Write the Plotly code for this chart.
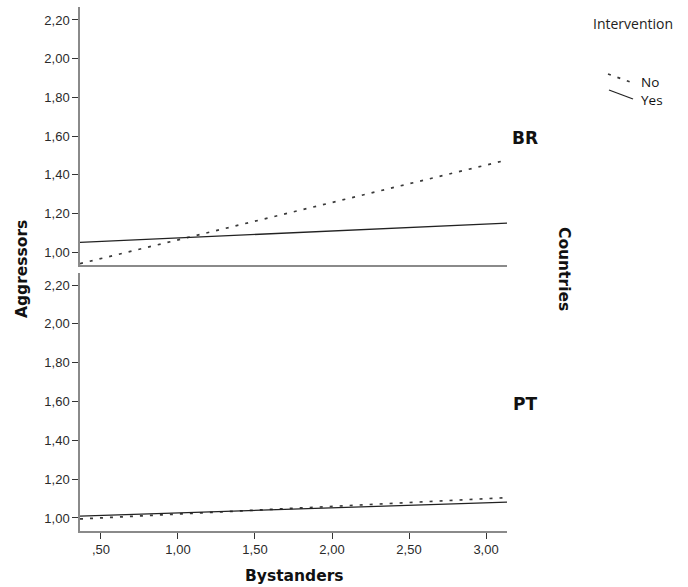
import plotly.graph_objects as go

# ---- data ----
bystanders_range = [0.364, 3.136]
br_no = [0.94, 1.476]
br_yes = [1.05, 1.15]
pt_no = [0.995, 1.105]
pt_yes = [1.01, 1.082]
x_tickvals = [0.5, 1.0, 1.5, 2.0, 2.5, 3.0]
x_ticktext = [",50", "1,00", "1,50", "2,00", "2,50", "3,00"]
y_tickvals = [1.0, 1.2, 1.4, 1.6, 1.8, 2.0, 2.2]
y_ticktext = ["1,00", "1,20", "1,40", "1,60", "1,80", "2,00", "2,20"]

W, H = 688, 587
L, R, T, B = 80, 181, 7, 56
PW, PH = W - L - R, H - T - B

def px(x):
    return (x - L) / PW

def py(y):
    return (H - B - y) / PH

dot_style = dict(color="#3a3a3a", width=1.7, dash="3px,7px")
solid_style = dict(color="#222222", width=1.3)

fig = go.Figure()
fig.add_trace(go.Scatter(x=bystanders_range, y=br_no, mode="lines", line=dot_style,
                         xaxis="x2", yaxis="y2", showlegend=False))
fig.add_trace(go.Scatter(x=bystanders_range, y=br_yes, mode="lines", line=solid_style,
                         xaxis="x2", yaxis="y2", showlegend=False))
fig.add_trace(go.Scatter(x=bystanders_range, y=pt_no, mode="lines", line=dot_style,
                         xaxis="x", yaxis="y", showlegend=False))
fig.add_trace(go.Scatter(x=bystanders_range, y=pt_yes, mode="lines", line=solid_style,
                         xaxis="x", yaxis="y", showlegend=False))

tickfont = dict(family="Liberation Sans, Arial", size=13, color="#2a2a2a")
axis_common = dict(showline=True, linecolor="#8a8a8a", linewidth=1.5, showgrid=False,
                   zeroline=False, ticks="outside", ticklen=6, tickcolor="#333333",
                   tickwidth=1.3, tickfont=tickfont)

top_bottom_px = 265
bot_top_px = 273
fig.update_layout(
    width=W, height=H,
    margin=dict(l=L, r=R, t=T, b=B),
    paper_bgcolor="white", plot_bgcolor="white",
    xaxis=dict(domain=[0, 1], range=bystanders_range, anchor="y",
               tickvals=x_tickvals, ticktext=x_ticktext, **axis_common),
    xaxis2=dict(domain=[0, 1], range=bystanders_range, anchor="y2",
                showline=True, linecolor="#8a8a8a", linewidth=1.5, showgrid=False,
                zeroline=False, showticklabels=False, ticks=""),
    yaxis=dict(domain=[0, py(bot_top_px)], range=[0.933, 2.262], anchor="x",
               tickvals=y_tickvals, ticktext=y_ticktext, **axis_common),
    yaxis2=dict(domain=[py(top_bottom_px), 1], range=[0.933, 2.267], anchor="x2",
                tickvals=y_tickvals, ticktext=y_ticktext, **axis_common),
)

bold = dict(family="DejaVu Sans", size=15.5, color="#111111")
big_bold = dict(family="DejaVu Sans", size=17, color="#111111")
light = dict(family="Open Sans", size=14, color="#222222")
ann = [
    dict(text="<b>Aggressors</b>", x=px(22), y=py(269), textangle=-90, font=bold),
    dict(text="<b>Bystanders</b>", x=px(294), y=py(576), font=bold),
    dict(text="<b>Countries</b>", x=px(564), y=py(269), textangle=90, font=bold),
    dict(text="<b>BR</b>", x=px(525), y=py(138), font=big_bold),
    dict(text="<b>PT</b>", x=px(525), y=py(404), font=big_bold),
    dict(text="Intervention", x=px(633), y=py(23), font=light),
    dict(text="No", x=px(639), y=py(82), xanchor="left", font=dict(light, size=13.5, color="#111111")),
    dict(text="Yes", x=px(639), y=py(100), xanchor="left", font=dict(light, size=13.5, color="#111111")),
]
for a in ann:
    a.setdefault("xanchor", "center")
    fig.add_annotation(xref="paper", yref="paper", yanchor="middle", showarrow=False, **a)

fig.add_shape(type="line", xref="paper", yref="paper",
              x0=px(608), y0=py(74), x1=px(633), y1=py(83), line=dot_style)
fig.add_shape(type="line", xref="paper", yref="paper",
              x0=px(609), y0=py(90), x1=px(633), y1=py(99), line=solid_style)

fig.write_html("out.html", config={"displayModeBar": False},
               post_script="document.body.style.margin='0';")
